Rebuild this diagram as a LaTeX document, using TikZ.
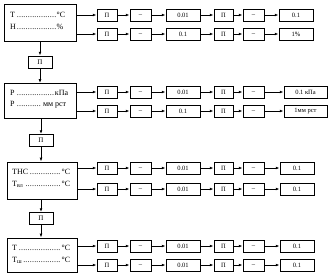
\documentclass[tikz,border=0pt]{standalone}
\usepackage{fontspec}
\setmainfont{Liberation Serif}
\usetikzlibrary{arrows.meta}
\newcommand{\dfill}{\leaders\hbox to 2.2pt{\hss.\hss}\hfill}
\newcommand{\chainrow}[6]{%
  \node[sbox, minimum width=20pt] (#1a) at (107,#2) {П};
  \node[sbox, minimum width=21pt] (#1b) at (140.5,#2) {\_};
  \node[sbox, minimum width=34pt] (#1c) at (183,#2) {#3};
  \node[sbox, minimum width=19pt] (#1d) at (223.5,#2) {П};
  \node[sbox, minimum width=21pt] (#1e) at (253.5,#2) {\_};
  \node[sbox, minimum width=#6] (#1f) at (#5,#2) {#4};
  \draw[arr] (#1a) -- (#1b);
  \draw[arr] (#1b) -- (#1c);
  \draw[arr] (#1c) -- (#1d);
  \draw[arr] (#1d) -- (#1e);
  \draw[arr] (#1e) -- (#1f);
}
\begin{document}
\begin{tikzpicture}[x=1pt,y=-1pt,
  sbox/.style={draw, line width=0.9pt, minimum height=12pt, inner sep=0pt, font=\fontsize{6.5}{7}\selectfont},
  bigbox/.style={draw, line width=1pt, inner sep=0pt},
  pibox/.style={draw, line width=0.9pt, inner sep=0pt, minimum width=24pt, minimum height=12pt, font=\fontsize{7}{8}\selectfont},
  arr/.style={-{Latex[length=3.8pt,width=2.8pt]}, line width=0.8pt},
  lbl/.style={anchor=west, inner sep=0pt, font=\fontsize{8}{9}\selectfont}]
\useasboundingbox[fill=white] (0,0) rectangle (329,279);

% big boxes
\node[bigbox, minimum width=72pt, minimum height=37pt] (A) at (40,22.5) {};
\node[bigbox, minimum width=72pt, minimum height=35pt] (B) at (40,101) {};
\node[bigbox, minimum width=70pt, minimum height=37pt] (C) at (42,180.5) {};
\node[bigbox, minimum width=70pt, minimum height=34pt] (D) at (42,255) {};

% labels
\node[lbl] (A1) at (10,15) {\makebox[55pt][s]{Т\dfill°С}};
\node[lbl] (A2) at (10,27) {\makebox[53pt][s]{H\dfill\%}};
\node[lbl] (B1) at (10,93) {\makebox[58pt][s]{Р\dfill кПа}};
\node[lbl] (B2) at (10,105) {\makebox[56pt][s]{Р\dfill мм рст}};
\node[lbl] (C1) at (12,172) {\makebox[58pt][s]{ТНС\dfill°С}};
\node[lbl] (C2) at (12,184) {\makebox[58pt][s]{Т\textsubscript{вл}\dfill°С}};
\node[lbl] (D1) at (12,248) {\makebox[58pt][s]{Т\dfill°С}};
\node[lbl] (D2) at (12,260) {\makebox[58pt][s]{Т\textsubscript{ш}\dfill°С}};

% П boxes between
\node[pibox] (P1) at (40,62) {П};
\node[pibox] (P2) at (41,140.5) {П};
\node[pibox] (P3) at (41,218.5) {П};

\draw[arr] (P1 |- A.south) -- (P1);
\draw[arr] (P1) -- (P1 |- B.north);
\draw[arr] (P2 |- B.south) -- (P2);
\draw[arr] (P2) -- (P2 |- C.north);
\draw[arr] (P3 |- C.south) -- (P3);
\draw[arr] (P3) -- (P3 |- D.north);

% chains
\chainrow{ra}{15}{0.01}{0.1}{296}{34pt}
\chainrow{rb}{34}{0.1}{1\%}{296}{34pt}
\chainrow{rc}{92}{0.01}{0.1 кПа}{305.5}{43pt}
\chainrow{rd}{111}{0.1}{1мм рст}{305.5}{43pt}
\chainrow{re}{168}{0.01}{0.1}{297}{34pt}
\chainrow{rf}{189}{0.01}{0.1}{297}{34pt}
\chainrow{rg}{246}{0.01}{0.1}{297}{34pt}
\chainrow{rh}{265}{0.01}{0.1}{297}{34pt}

\draw[arr] (A.east |- raa) -- (raa);
\draw[arr] (A.east |- rba) -- (rba);
\draw[arr] (B.east |- rca) -- (rca);
\draw[arr] (B.east |- rda) -- (rda);
\draw[arr] (C.east |- rea) -- (rea);
\draw[arr] (C.east |- rfa) -- (rfa);
\draw[arr] (D.east |- rga) -- (rga);
\draw[arr] (D.east |- rha) -- (rha);
\end{tikzpicture}
\end{document}
